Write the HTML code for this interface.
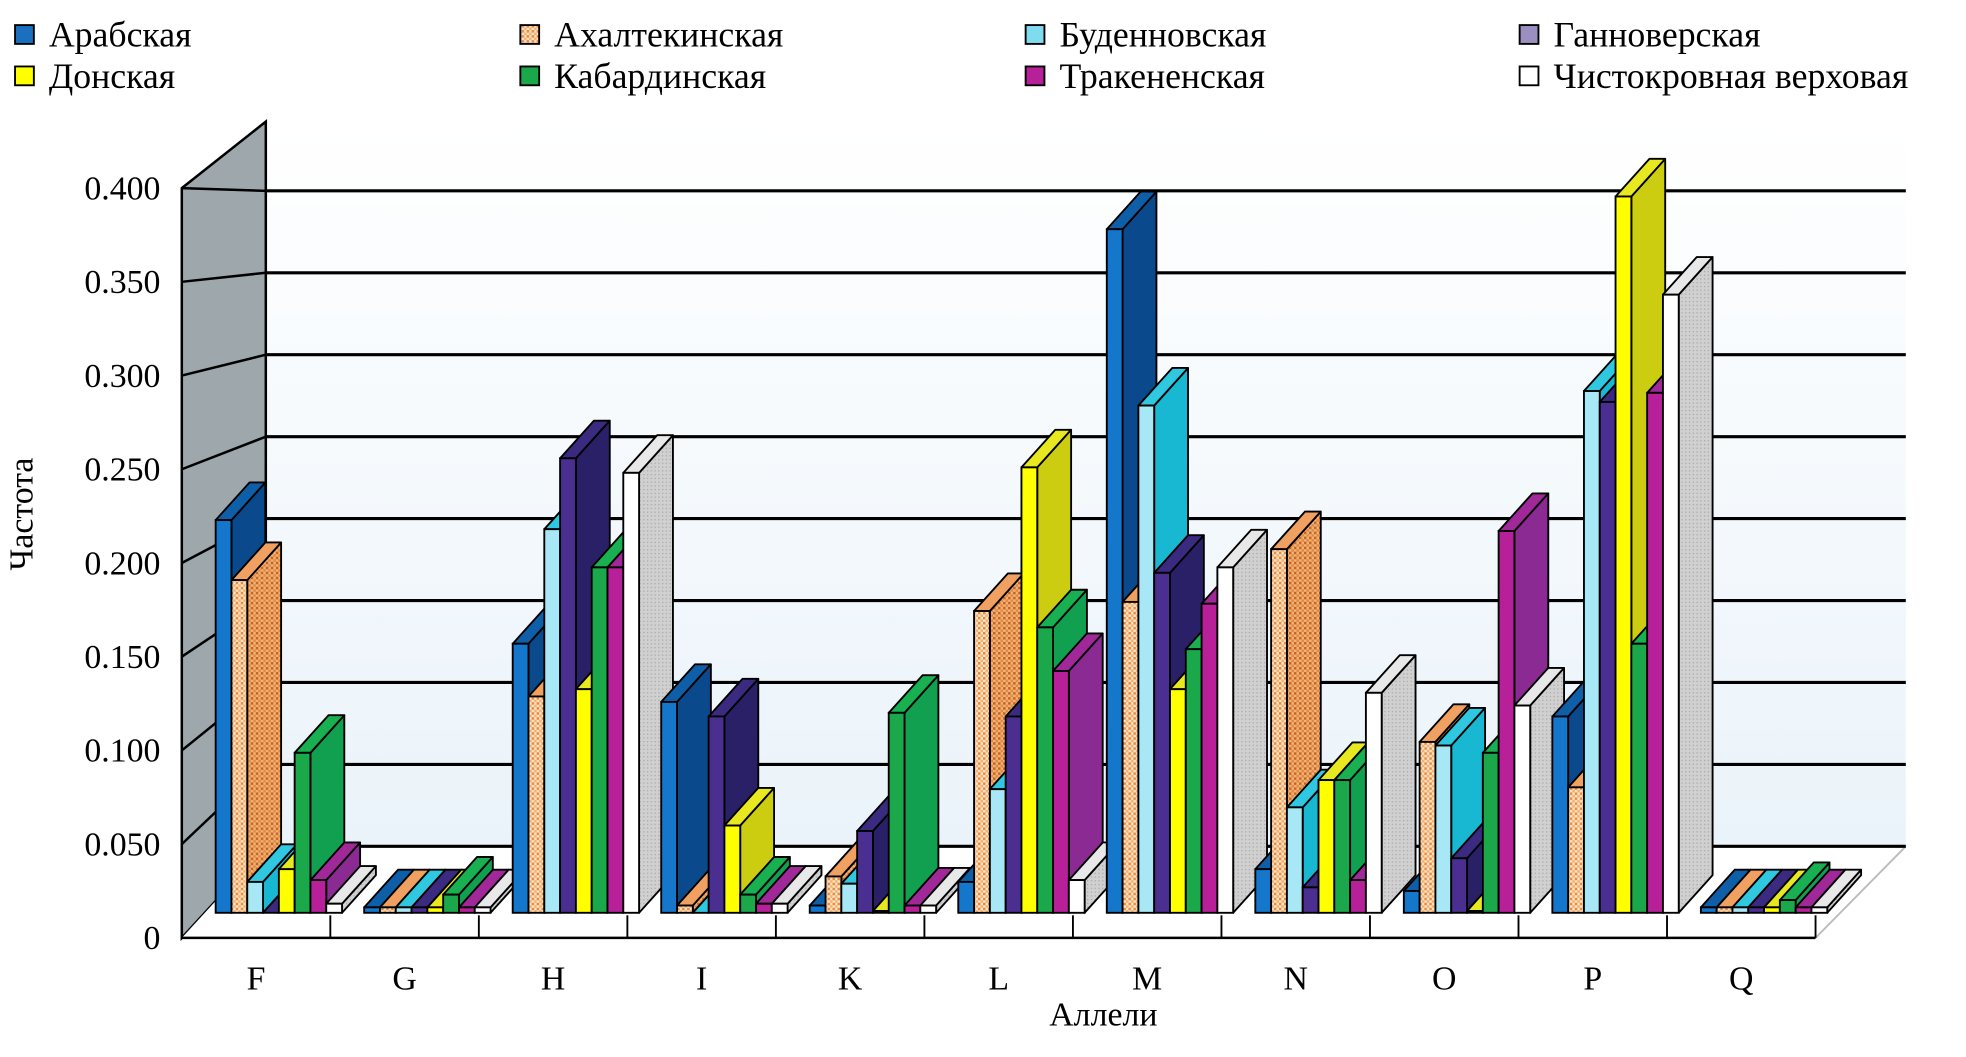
<!DOCTYPE html>
<html><head><meta charset="utf-8"><style>
html,body{margin:0;padding:0;background:#fff}
svg{display:block}
text{font-family:"Liberation Serif","DejaVu Serif",serif;fill:#000}
</style></head><body>
<svg id="chart" width="1966" height="1057" viewBox="0 0 1568 843" xmlns="http://www.w3.org/2000/svg">
<defs>
<linearGradient id="wallg" x1="0" y1="0" x2="0" y2="1"><stop offset="0" stop-color="#ffffff"/><stop offset="1" stop-color="#eaf3fa"/></linearGradient>
<pattern id="chk" width="4" height="4" patternUnits="userSpaceOnUse"><rect width="4" height="4" fill="#fbe3c8"/><rect width="2" height="2" fill="#e88a3a"/><rect x="2" y="2" width="2" height="2" fill="#f3b070"/></pattern>
<pattern id="chkd" width="4" height="4" patternUnits="userSpaceOnUse"><rect width="4" height="4" fill="#f0b27a"/><rect width="2" height="2" fill="#c8641e"/><rect x="2" y="2" width="2" height="2" fill="#e08a40"/></pattern>
<pattern id="dots" width="3" height="3" patternUnits="userSpaceOnUse"><rect width="3" height="3" fill="#d0d0d0"/><rect width="1" height="1" fill="#a8a8a8"/></pattern>
</defs>
<g id="frame"></g>
<g id="bars"></g>
<g id="labels"></g>
</svg>
<script>
const categories = ["F","G","H","I","K","L","M","N","O","P","Q"];
const breeds = ["Арабская","Ахалтекинская","Буденновская","Ганноверская","Донская","Кабардинская","Тракененская","Чистокровная верховая"];
const arab  = [0.216,0.003,0.148,0.116,0.004,0.017,0.376,0.024,0.012,0.108,0.003];
const akhal = [0.183,0.003,0.119,0.004,0.020,0.166,0.171,0.200,0.094,0.069,0.003];
const buden = [0.017,0.003,0.211,0.000,0.016,0.068,0.279,0.058,0.092,0.287,0.003];
const hann  = [0.000,0.003,0.250,0.108,0.045,0.108,0.187,0.014,0.030,0.281,0.003];
const don   = [0.024,0.003,0.123,0.048,0.001,0.245,0.123,0.073,0.001,0.394,0.003];
const kab   = [0.088,0.010,0.190,0.010,0.110,0.157,0.145,0.073,0.088,0.148,0.007];
const trak  = [0.018,0.003,0.190,0.005,0.004,0.133,0.170,0.018,0.210,0.286,0.003];
const thor  = [0.005,0.003,0.242,0.005,0.004,0.018,0.190,0.121,0.114,0.340,0.003];
const series = [arab,akhal,buden,hann,don,kab,trak,thor];
const tickLabels = ["0","0.050","0.100","0.150","0.200","0.250","0.300","0.350","0.400"];
const tickValues = [0,0.05,0.1,0.15,0.2,0.25,0.3,0.35,0.4];

const fronts = ["#1477cc","url(#chk)","#a8e8f6","#4a2e90","#ffff00","#1aa84a","#b8209a","#ffffff"];
const sides  = ["#0a4a8c","url(#chkd)","#18b8d2","#2a2068","#cccc10","#10a050","#8a2a92","url(#dots)"];
const tops   = ["#0f5fa8","#f0a060","#30c8e0","#3a2a80","#e8e820","#18b050","#a02898","#e8e8e8"];
const legendFill = ["#1a6fbf","url(#chk)","#7fdcef","#9a8fc0","#ffff00","#1aa84a","#b8209a","#ffffff"];

const NS="http://www.w3.org/2000/svg";
const FF='"Liberation Serif", "DejaVu Serif", serif';
function mk(tag,attrs,parent){const e=document.createElementNS(NS,tag);for(const k in attrs)e.setAttribute(k,attrs[k]);parent.appendChild(e);return e;}
const frame=document.getElementById('frame'), barsG=document.getElementById('bars'), lab=document.getElementById('labels');
const X0=145, XB=212, YF=748, YB=675, XR=1448, XRB=1520, TOPB=97;
function yFront(v){return YF - v*1495;}
function yBack(v){return YB - v*1307;}
function yBar(v){return 728 - v*1450;}
const GW=(XR-X0)/categories.length;

let w=mk('rect',{x:XB,y:TOPB,width:XRB-XB,height:YB-TOPB,fill:"url(#wallg)"},frame);


let sw=mk('polygon',{points:`${X0},150 ${XB},${TOPB} ${XB},${YB} ${X0},${YF}`,fill:"#9ea8ac",stroke:"#000","stroke-width":2},frame);


let fl=mk('polygon',{points:`${X0},${YF} ${XR},${YF} ${XRB},${YB} ${XB},${YB}`,fill:"#fff"},frame);


mk('line',{x1:XR,y1:YF,x2:XRB,y2:YB,stroke:"#bbb","stroke-width":1.5},frame);
mk('line',{x1:XB,y1:YB,x2:XRB,y2:YB,stroke:"#000","stroke-width":2.5},frame);
mk('line',{x1:X0,y1:YF,x2:XR,y2:YF,stroke:"#000","stroke-width":2},frame);
tickValues.forEach((v,i)=>{
  if(i>0){
    let g=mk('line',{x1:XB,y1:yBack(v),x2:XRB,y2:yBack(v),stroke:"#000","stroke-width":2.5},frame);
    
    
    mk('line',{x1:X0,y1:yFront(v),x2:XB,y2:yBack(v),stroke:"#000","stroke-width":2},frame);
  }
  let t=mk('text',{x:128,y:yFront(v)+9,"text-anchor":"end","font-size":27,"font-family":FF},lab);
  t.textContent=tickLabels[i];
  
  
});
for(let i=1;i<=categories.length;i++){
  mk('line',{x1:X0+GW*i,y1:730,x2:X0+GW*i,y2:YF,stroke:"#000","stroke-width":1.5},frame);
}
const BW=12.6, DX=27, DY=-30;
categories.forEach((c,gi)=>{
  const left=X0+GW*gi+27;
  series.forEach((arr,j)=>{
    const v=arr[gi]; const x=left+BW*j; const y=yBar(v); const b=728;
    const g=mk('g',{},barsG);
    
    
    mk('polygon',{points:`${x+BW},${b} ${x+BW+DX},${b+DY} ${x+BW+DX},${y+DY} ${x+BW},${y}`,fill:sides[j],stroke:"#000","stroke-width":1.5,"stroke-linejoin":"round"},g);
    mk('polygon',{points:`${x},${y} ${x+DX},${y+DY} ${x+BW+DX},${y+DY} ${x+BW},${y}`,fill:tops[j],stroke:"#000","stroke-width":1.5,"stroke-linejoin":"round"},g);
    mk('rect',{x:x,y:y,width:BW,height:b-y,fill:fronts[j],stroke:"#000","stroke-width":1.5},g);
  });
  let t=mk('text',{x:X0+GW*gi+GW/2,y:789,"text-anchor":"middle","font-size":27,"font-family":FF},lab);
  t.textContent=c;
  
  
});
let yt=mk('text',{x:0,y:0,"text-anchor":"middle","font-size":27,"font-family":FF,transform:"translate(26,410) rotate(-90)"},lab);
yt.textContent="Частота";


let xt=mk('text',{x:880,y:818,"text-anchor":"middle","font-size":27,"font-family":FF},lab);
xt.textContent="Аллели";


const lx=[12,415,818,1212], ly=[35,68];
breeds.forEach((n,i)=>{
  const r=i<4?0:1, c=i%4;
  const g=mk('g',{},lab);
  
  
  mk('rect',{x:lx[c],y:ly[r]-15,width:15,height:15,fill:legendFill[i],stroke:"#000","stroke-width":1.5},g);
  const t=mk('text',{x:lx[c]+27,y:ly[r]+2,"font-size":28.5,"font-family":FF},g);
  t.textContent=n;
});
</script>
</body></html>
